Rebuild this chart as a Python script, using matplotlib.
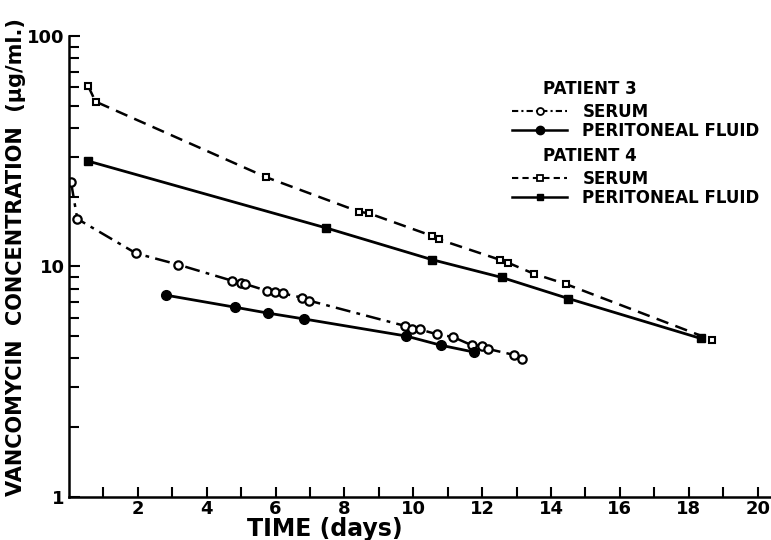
import matplotlib.pyplot as plt
from matplotlib.lines import Line2D
from matplotlib.ticker import FixedLocator, NullFormatter, LogLocator

plt.rcParams['font.family'] = ['DejaVu Sans']
plt.rcParams['font.weight'] = 'bold'

# Patient 3 - serum (open circles, dash-dot)
p3_serum_t = [0.06, 0.24, 1.95, 3.16, 4.74, 4.99, 5.11, 5.74, 5.99, 6.21, 6.76, 6.97,
              9.76, 9.96, 10.19, 10.7, 11.14, 11.7, 12.0, 12.18, 12.93, 13.16]
p3_serum_c = [23.2, 16.1, 11.4, 10.2, 8.67, 8.51, 8.4, 7.85, 7.75, 7.64, 7.33, 7.11,
              5.52, 5.37, 5.33, 5.07, 4.95, 4.55, 4.53, 4.38, 4.13, 3.95]

# Patient 3 - peritoneal fluid (filled circles, solid)
p3_pf_t = [2.81, 4.81, 5.79, 6.82, 9.79, 10.8, 11.76]
p3_pf_c = [7.51, 6.66, 6.27, 5.92, 4.99, 4.55, 4.25]

# Patient 4 - serum (open squares, dashed)
p4_serum_t = [0.55, 0.77, 5.73, 8.42, 8.72, 10.53, 10.75, 12.51, 12.74, 13.5, 14.42, 18.67]
p4_serum_c = [61.0, 52.0, 24.4, 17.3, 17.0, 13.6, 13.1, 10.7, 10.4, 9.3, 8.4, 4.8]

# Patient 4 - peritoneal fluid (filled squares, solid)
p4_pf_t = [0.55, 7.47, 10.55, 12.57, 14.5, 18.35]
p4_pf_c = [28.7, 14.7, 10.7, 8.96, 7.26, 4.87]

x_ticks = list(range(1, 21))
x_labels = ['' if t % 2 else str(t) for t in x_ticks]

fig = plt.figure(figsize=(7.71, 5.40), dpi=100)
ax = fig.add_axes([0.0895, 0.080, 0.92, 0.853])

ax.plot(p3_serum_t, p3_serum_c, color='black', lw=1.8, linestyle=(0, (6, 2.5, 1.5, 2.5)),
        marker='o', ms=6, mfc='white', mec='black', mew=1.6)
ax.plot(p3_pf_t, p3_pf_c, color='black', lw=2.0, linestyle='-',
        marker='o', ms=7, mfc='black', mec='black')
ax.plot(p4_serum_t, p4_serum_c, color='black', lw=1.8, linestyle=(0, (5, 3)),
        marker='s', ms=5, mfc='white', mec='black', mew=1.5)
ax.plot(p4_pf_t, p4_pf_c, color='black', lw=2.0, linestyle='-',
        marker='s', ms=5.5, mfc='black', mec='black')

ax.set_yscale('log')
ax.set_ylim(1, 100)
ax.set_xlim(0, 20.6)

ax.xaxis.set_major_locator(FixedLocator(x_ticks))
ax.set_xticklabels(x_labels)
ax.yaxis.set_major_locator(FixedLocator([1, 10, 100]))
ax.set_yticklabels(['1', '10', '100'])
ax.yaxis.set_minor_locator(LogLocator(base=10, subs=range(2, 10)))
ax.yaxis.set_minor_formatter(NullFormatter())

ax.tick_params(axis='x', direction='in', length=7, width=1.5, labelsize=13, pad=2)
ax.tick_params(axis='y', which='major', direction='in', length=8, width=1.5, labelsize=13, pad=3)
ax.tick_params(axis='y', which='minor', direction='in', length=7, width=1.5)
for lab in ax.get_xticklabels() + ax.get_yticklabels():
    lab.set_fontweight('bold')

ax.spines['top'].set_visible(False)
ax.spines['right'].set_visible(False)
ax.spines['left'].set_linewidth(1.8)
ax.spines['bottom'].set_linewidth(1.8)

ax.set_xlabel('TIME (days)', fontsize=17, fontweight='bold')
ax.xaxis.set_label_coords(0.361, -0.043)
ax.set_ylabel('VANCOMYCIN  CONCENTRATION  (μg/ml.)', fontsize=15, fontweight='bold')
ax.yaxis.set_label_coords(-0.061, 0.52)

# legend
h_p3s = Line2D([], [], color='black', lw=1.5, linestyle=(0, (3, 1.5, 1, 1.5)),
               marker='o', ms=5, mfc='white', mec='black', mew=1.3)
h_p3p = Line2D([], [], color='black', lw=1.8, marker='o', ms=6, mfc='black', mec='black')
h_p4s = Line2D([], [], color='black', lw=1.5, linestyle=(0, (3, 2)),
               marker='s', ms=4.5, mfc='white', mec='black', mew=1.3)
h_p4p = Line2D([], [], color='black', lw=1.8, marker='s', ms=5, mfc='black', mec='black')

leg_kw = dict(frameon=False, handlelength=3.3, handletextpad=0.9, labelspacing=0.05,
              prop={'size': 12, 'weight': 'bold'}, borderaxespad=0, borderpad=0)
leg1 = ax.legend([h_p3s, h_p3p], ['SERUM', 'PERITONEAL FLUID'], loc='upper left',
                 bbox_to_anchor=(0.625, 0.855), **leg_kw)
ax.add_artist(leg1)
ax.legend([h_p4s, h_p4p], ['SERUM', 'PERITONEAL FLUID'], loc='upper left',
          bbox_to_anchor=(0.625, 0.71), **leg_kw)
ax.text(0.668, 0.865, 'PATIENT 3', transform=ax.transAxes, fontsize=12, fontweight='bold',
        va='bottom', ha='left')
ax.text(0.668, 0.72, 'PATIENT 4', transform=ax.transAxes, fontsize=12, fontweight='bold',
        va='bottom', ha='left')

fig.savefig('out.png', dpi=100)
